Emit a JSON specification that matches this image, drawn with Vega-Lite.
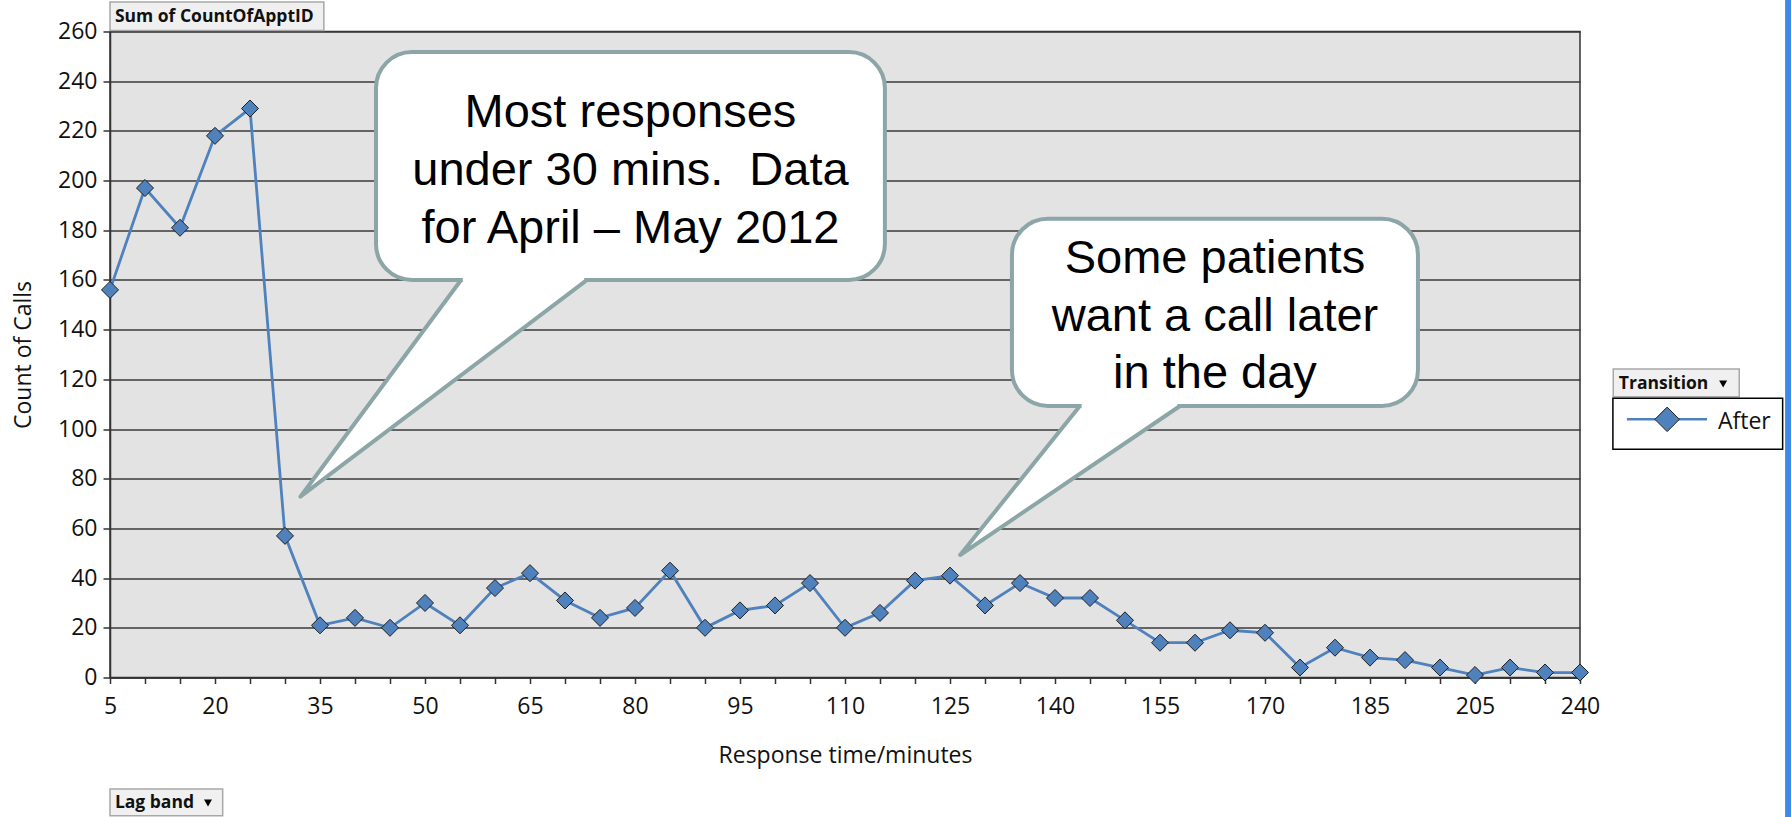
{
  "$schema": "https://vega.github.io/schema/vega-lite/v6.json",
  "width": 1470,
  "height": 646,
  "autosize": {"type": "none"},
  "padding": {"left": 110, "top": 31.5, "right": 211, "bottom": 139.5},
  "background": "white",
  "config": {
    "font": "Open Sans",
    "view": {"fill": "#e3e3e3", "stroke": "#333333", "strokeWidth": 1.5},
    "axisY": {
      "tickCount": 13, "grid": true, "gridColor": "#3a3a3a", "gridWidth": 1.5,
      "labelFontSize": 23, "labelColor": "#111111", "labelFont": "Open Sans", "labelPadding": 6,
      "tickSize": 7, "tickColor": "#333333", "tickWidth": 1.5,
      "domainColor": "#333333", "domainWidth": 1.5,
      "titleFontSize": 23, "titleFontWeight": "normal", "titleColor": "#111111", "titleFont": "Open Sans",
      "titlePadding": 22
    },
    "axisX": {
      "labelOverlap": false, "labelAngle": 0,
      "labelFontSize": 23, "labelColor": "#111111", "labelFont": "Open Sans", "labelPadding": 12,
      "tickSize": 6, "tickColor": "#333333", "tickWidth": 1.5,
      "domainColor": "#333333", "domainWidth": 1.5, "grid": false,
      "titleFontSize": 23, "titleFontWeight": "normal", "titleColor": "#111111", "titleFont": "Open Sans",
      "titlePadding": 26
    }
  },
  "datasets": {
    "calls": [
      {"band": 5, "calls": 156, "Transition": "After"},
      {"band": 10, "calls": 197, "Transition": "After"},
      {"band": 15, "calls": 181, "Transition": "After"},
      {"band": 20, "calls": 218, "Transition": "After"},
      {"band": 25, "calls": 229, "Transition": "After"},
      {"band": 30, "calls": 57, "Transition": "After"},
      {"band": 35, "calls": 21, "Transition": "After"},
      {"band": 40, "calls": 24, "Transition": "After"},
      {"band": 45, "calls": 20, "Transition": "After"},
      {"band": 50, "calls": 30, "Transition": "After"},
      {"band": 55, "calls": 21, "Transition": "After"},
      {"band": 60, "calls": 36, "Transition": "After"},
      {"band": 65, "calls": 42, "Transition": "After"},
      {"band": 70, "calls": 31, "Transition": "After"},
      {"band": 75, "calls": 24, "Transition": "After"},
      {"band": 80, "calls": 28, "Transition": "After"},
      {"band": 85, "calls": 43, "Transition": "After"},
      {"band": 90, "calls": 20, "Transition": "After"},
      {"band": 95, "calls": 27, "Transition": "After"},
      {"band": 100, "calls": 29, "Transition": "After"},
      {"band": 105, "calls": 38, "Transition": "After"},
      {"band": 110, "calls": 20, "Transition": "After"},
      {"band": 115, "calls": 26, "Transition": "After"},
      {"band": 120, "calls": 39, "Transition": "After"},
      {"band": 125, "calls": 41, "Transition": "After"},
      {"band": 130, "calls": 29, "Transition": "After"},
      {"band": 135, "calls": 38, "Transition": "After"},
      {"band": 140, "calls": 32, "Transition": "After"},
      {"band": 145, "calls": 32, "Transition": "After"},
      {"band": 150, "calls": 23, "Transition": "After"},
      {"band": 155, "calls": 14, "Transition": "After"},
      {"band": 160, "calls": 14, "Transition": "After"},
      {"band": 165, "calls": 19, "Transition": "After"},
      {"band": 170, "calls": 18, "Transition": "After"},
      {"band": 175, "calls": 4, "Transition": "After"},
      {"band": 180, "calls": 12, "Transition": "After"},
      {"band": 185, "calls": 8, "Transition": "After"},
      {"band": 190, "calls": 7, "Transition": "After"},
      {"band": 195, "calls": 4, "Transition": "After"},
      {"band": 205, "calls": 1, "Transition": "After"},
      {"band": 210, "calls": 4, "Transition": "After"},
      {"band": 220, "calls": 2, "Transition": "After"},
      {"band": 240, "calls": 2, "Transition": "After"}
    ],
    "tails": [
      {"callout": 1, "x": 5.44, "top": 72.77, "bottom": 72.77},
      {"callout": 1, "x": 10.03, "top": 160.0, "bottom": 121.66},
      {"callout": 1, "x": 13.63, "top": 160.0, "bottom": 160.0},
      {"callout": 2, "x": 24.29, "top": 49.3, "bottom": 49.3},
      {"callout": 2, "x": 27.71, "top": 109.27, "bottom": 81.96},
      {"callout": 2, "x": 30.57, "top": 109.27, "bottom": 109.27}
    ],
    "edges": [
      {"callout": 1, "o": 1, "x": 10.03, "y": 160.0},
      {"callout": 1, "o": 2, "x": 5.44, "y": 72.77},
      {"callout": 1, "o": 3, "x": 13.63, "y": 160.0},
      {"callout": 2, "o": 1, "x": 27.71, "y": 109.27},
      {"callout": 2, "o": 2, "x": 24.29, "y": 49.3},
      {"callout": 2, "o": 3, "x": 30.57, "y": 109.27}
    ]
  },
  "layer": [
    {
      "data": {"name": "calls"},
      "encoding": {
        "x": {
          "field": "band", "type": "ordinal", "sort": null,
          "scale": {"type": "point", "padding": 0},
          "title": "Response time/minutes",
          "axis": {
            "labelExpr": "indexof([5,20,35,50,65,80,95,110,125,140,155,170,185,205,240], datum.value) >= 0 ? datum.label : ''"
          }
        },
        "y": {
          "field": "calls", "type": "quantitative",
          "scale": {"domain": [0, 260], "nice": false},
          "title": "Count of Calls"
        }
      },
      "layer": [
        {"mark": {"type": "line", "color": "#4f81bd", "strokeWidth": 2.8}},
        {"mark": {"type": "point", "shape": "diamond", "filled": true, "size": 290, "fill": "#4f81bd", "stroke": "#1f1f1f", "strokeWidth": 1, "opacity": 1}}
      ]
    },
    {
      "layer": [
        {
          "data": {"name": "tails"},
          "mark": {"type": "area", "fill": "white", "strokeWidth": 0, "opacity": 1},
          "encoding": {
            "x": {"field": "x", "type": "quantitative", "scale": {"domain": [0, 42], "nice": false, "zero": false}, "axis": null},
            "y": {"field": "top", "type": "quantitative", "scale": {"domain": [0, 260], "nice": false}, "title": "Count of Calls"},
            "y2": {"field": "bottom"},
            "detail": {"field": "callout"}
          }
        },
        {
          "data": {"values": [{}]},
          "mark": {"type": "rect", "fill": "white", "stroke": "#8ca6a8", "strokeWidth": 4, "cornerRadius": 36},
          "encoding": {
            "x": {"datum": 7.6, "type": "quantitative", "scale": {"domain": [0, 42], "nice": false, "zero": false}, "axis": null},
            "x2": {"datum": 22.14},
            "y": {"datum": 251.75, "type": "quantitative", "scale": {"domain": [0, 260], "nice": false}, "title": "Count of Calls"},
            "y2": {"datum": 160.0}
          }
        },
        {
          "data": {"values": [{}]},
          "mark": {"type": "rect", "fill": "white", "stroke": "#8ca6a8", "strokeWidth": 4, "cornerRadius": 36},
          "encoding": {
            "x": {"datum": 25.77, "type": "quantitative", "scale": {"domain": [0, 42], "nice": false, "zero": false}, "axis": null},
            "x2": {"datum": 37.37},
            "y": {"datum": 184.66, "type": "quantitative", "scale": {"domain": [0, 260], "nice": false}, "title": "Count of Calls"},
            "y2": {"datum": 109.27}
          }
        },
        {
          "data": {"values": [{}]},
          "mark": {"type": "rect", "fill": "white", "strokeWidth": 0},
          "encoding": {
            "x": {"datum": 10.08, "type": "quantitative", "scale": {"domain": [0, 42], "nice": false, "zero": false}, "axis": null},
            "x2": {"datum": 13.55},
            "y": {"datum": 158.5, "type": "quantitative", "scale": {"domain": [0, 260], "nice": false}, "title": "Count of Calls"},
            "y2": {"datum": 161.5}
          }
        },
        {
          "data": {"values": [{}]},
          "mark": {"type": "rect", "fill": "white", "strokeWidth": 0},
          "encoding": {
            "x": {"datum": 27.76, "type": "quantitative", "scale": {"domain": [0, 42], "nice": false, "zero": false}, "axis": null},
            "x2": {"datum": 30.5},
            "y": {"datum": 107.8, "type": "quantitative", "scale": {"domain": [0, 260], "nice": false}, "title": "Count of Calls"},
            "y2": {"datum": 110.8}
          }
        },
        {
          "data": {"name": "edges"},
          "mark": {"type": "line", "stroke": "#8ca6a8", "strokeWidth": 4, "strokeJoin": "round"},
          "encoding": {
            "x": {"field": "x", "type": "quantitative", "scale": {"domain": [0, 42], "nice": false, "zero": false}, "axis": null},
            "y": {"field": "y", "type": "quantitative", "scale": {"domain": [0, 260], "nice": false}, "title": "Count of Calls"},
            "detail": {"field": "callout"},
            "order": {"field": "o"}
          }
        },
        {
          "data": {"values": [{}]},
          "mark": {"type": "text", "text": ["Most responses", "under 30 mins.\u00a0 Data", "for April \u2013 May 2012"], "font": "Liberation Sans", "fontSize": 47, "lineHeight": 58.3, "align": "center", "baseline": "alphabetic", "color": "black"},
          "encoding": {
            "x": {"datum": 14.87, "type": "quantitative", "scale": {"domain": [0, 42], "nice": false, "zero": false}, "axis": null},
            "y": {"datum": 221.7, "type": "quantitative", "scale": {"domain": [0, 260], "nice": false}, "title": "Count of Calls"}
          }
        },
        {
          "data": {"values": [{}]},
          "mark": {"type": "text", "text": ["Some patients", "want a call later", "in the day"], "font": "Liberation Sans", "fontSize": 47, "lineHeight": 57.5, "align": "center", "baseline": "alphabetic", "color": "black"},
          "encoding": {
            "x": {"datum": 31.57, "type": "quantitative", "scale": {"domain": [0, 42], "nice": false, "zero": false}, "axis": null},
            "y": {"datum": 162.7, "type": "quantitative", "scale": {"domain": [0, 260], "nice": false}, "title": "Count of Calls"}
          }
        },
        {
          "data": {"values": [{}]},
          "mark": {"type": "rect", "fill": "#f0f0f0", "stroke": "#a8a8a8", "strokeWidth": 1.5},
          "encoding": {
            "x": {"datum": 0, "type": "quantitative", "scale": {"domain": [0, 42], "nice": false, "zero": false}, "axis": null},
            "x2": {"datum": 6.11},
            "y": {"datum": 271.9, "type": "quantitative", "scale": {"domain": [0, 260], "nice": false}, "title": "Count of Calls"},
            "y2": {"datum": 260.4}
          }
        },
        {
          "data": {"values": [{}]},
          "mark": {"type": "text", "text": "Sum of CountOfApptID", "font": "Open Sans", "fontSize": 17.5, "fontWeight": "bold", "align": "left", "baseline": "middle", "color": "#111111"},
          "encoding": {
            "x": {"datum": 0.14, "type": "quantitative", "scale": {"domain": [0, 42], "nice": false, "zero": false}, "axis": null},
            "y": {"datum": 266.0, "type": "quantitative", "scale": {"domain": [0, 260], "nice": false}, "title": "Count of Calls"}
          }
        },
        {
          "data": {"values": [{}]},
          "mark": {"type": "rect", "fill": "#f0f0f0", "stroke": "#a8a8a8", "strokeWidth": 1.5},
          "encoding": {
            "x": {"datum": 0, "type": "quantitative", "scale": {"domain": [0, 42], "nice": false, "zero": false}, "axis": null},
            "x2": {"datum": 3.22},
            "y": {"datum": -44.9, "type": "quantitative", "scale": {"domain": [0, 260], "nice": false}, "title": "Count of Calls"},
            "y2": {"datum": -55.6}
          }
        },
        {
          "data": {"values": [{}]},
          "mark": {"type": "text", "text": "Lag band", "font": "Open Sans", "fontSize": 17.5, "fontWeight": "bold", "align": "left", "baseline": "middle", "color": "#111111"},
          "encoding": {
            "x": {"datum": 0.14, "type": "quantitative", "scale": {"domain": [0, 42], "nice": false, "zero": false}, "axis": null},
            "y": {"datum": -50.5, "type": "quantitative", "scale": {"domain": [0, 260], "nice": false}, "title": "Count of Calls"}
          }
        },
        {
          "data": {"values": [{}]},
          "mark": {"type": "point", "shape": "triangle-down", "filled": true, "size": 64, "fill": "black", "opacity": 1},
          "encoding": {
            "x": {"datum": 2.8, "type": "quantitative", "scale": {"domain": [0, 42], "nice": false, "zero": false}, "axis": null},
            "y": {"datum": -50.5, "type": "quantitative", "scale": {"domain": [0, 260], "nice": false}, "title": "Count of Calls"}
          }
        },
        {
          "data": {"values": [{}]},
          "mark": {"type": "rect", "fill": "#f0f0f0", "stroke": "#a8a8a8", "strokeWidth": 1.5},
          "encoding": {
            "x": {"datum": 42.95, "type": "quantitative", "scale": {"domain": [0, 42], "nice": false, "zero": false}, "axis": null},
            "x2": {"datum": 46.55},
            "y": {"datum": 124.2, "type": "quantitative", "scale": {"domain": [0, 260], "nice": false}, "title": "Count of Calls"},
            "y2": {"datum": 113.0}
          }
        },
        {
          "data": {"values": [{}]},
          "mark": {"type": "text", "text": "Transition", "font": "Open Sans", "fontSize": 17.5, "fontWeight": "bold", "align": "left", "baseline": "middle", "color": "#111111"},
          "encoding": {
            "x": {"datum": 43.11, "type": "quantitative", "scale": {"domain": [0, 42], "nice": false, "zero": false}, "axis": null},
            "y": {"datum": 118.1, "type": "quantitative", "scale": {"domain": [0, 260], "nice": false}, "title": "Count of Calls"}
          }
        },
        {
          "data": {"values": [{}]},
          "mark": {"type": "point", "shape": "triangle-down", "filled": true, "size": 64, "fill": "black", "opacity": 1},
          "encoding": {
            "x": {"datum": 46.09, "type": "quantitative", "scale": {"domain": [0, 42], "nice": false, "zero": false}, "axis": null},
            "y": {"datum": 118.1, "type": "quantitative", "scale": {"domain": [0, 260], "nice": false}, "title": "Count of Calls"}
          }
        },
        {
          "data": {"values": [{}]},
          "mark": {"type": "rect", "fill": "white", "stroke": "black", "strokeWidth": 1.5},
          "encoding": {
            "x": {"datum": 42.94, "type": "quantitative", "scale": {"domain": [0, 42], "nice": false, "zero": false}, "axis": null},
            "x2": {"datum": 47.79},
            "y": {"datum": 112.4, "type": "quantitative", "scale": {"domain": [0, 260], "nice": false}, "title": "Count of Calls"},
            "y2": {"datum": 91.85}
          }
        },
        {
          "data": {"values": [{}]},
          "mark": {"type": "rule", "stroke": "#4f81bd", "strokeWidth": 2.5},
          "encoding": {
            "x": {"datum": 43.34, "type": "quantitative", "scale": {"domain": [0, 42], "nice": false, "zero": false}, "axis": null},
            "x2": {"datum": 45.63},
            "y": {"datum": 103.9, "type": "quantitative", "scale": {"domain": [0, 260], "nice": false}, "title": "Count of Calls"}
          }
        },
        {
          "data": {"values": [{}]},
          "mark": {"type": "point", "shape": "diamond", "filled": true, "size": 600, "fill": "#4f81bd", "stroke": "#1f1f1f", "strokeWidth": 1, "opacity": 1},
          "encoding": {
            "x": {"datum": 44.49, "type": "quantitative", "scale": {"domain": [0, 42], "nice": false, "zero": false}, "axis": null},
            "y": {"datum": 103.9, "type": "quantitative", "scale": {"domain": [0, 260], "nice": false}, "title": "Count of Calls"}
          }
        },
        {
          "data": {"values": [{}]},
          "mark": {"type": "text", "text": "After", "font": "Open Sans", "fontSize": 23, "align": "left", "baseline": "middle", "color": "#111111"},
          "encoding": {
            "x": {"datum": 45.94, "type": "quantitative", "scale": {"domain": [0, 42], "nice": false, "zero": false}, "axis": null},
            "y": {"datum": 102.95, "type": "quantitative", "scale": {"domain": [0, 260], "nice": false}, "title": "Count of Calls"}
          }
        },
        {
          "data": {"values": [{}]},
          "mark": {"type": "rect", "fill": "#3b8be6", "strokeWidth": 0},
          "encoding": {
            "x": {"datum": 47.86, "type": "quantitative", "scale": {"domain": [0, 42], "nice": false, "zero": false}, "axis": null},
            "x2": {"datum": 48.3},
            "y": {"datum": 274, "type": "quantitative", "scale": {"domain": [0, 260], "nice": false}, "title": "Count of Calls"},
            "y2": {"datum": -58}
          }
        }
      ]
    }
  ],
  "resolve": {"scale": {"x": "independent"}, "axis": {"x": "independent"}}
}
